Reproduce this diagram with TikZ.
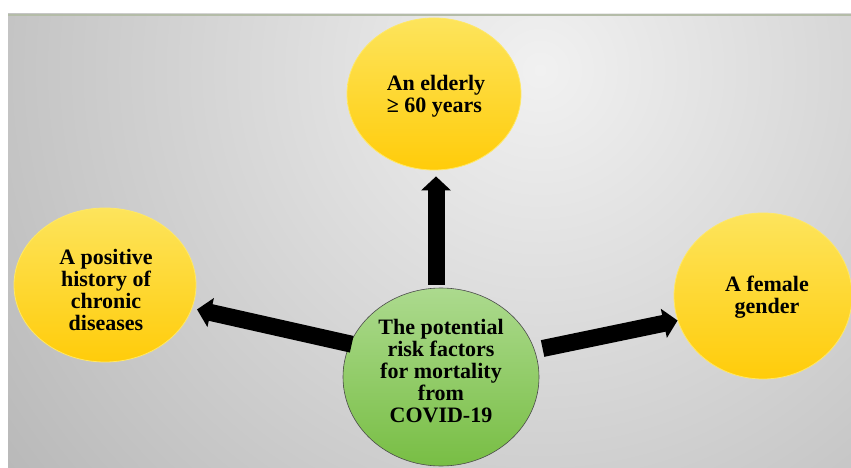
\documentclass[tikz,border=0pt]{standalone}
\usepackage{fontspec}
\setmainfont{Liberation Serif}
\usetikzlibrary{shapes.geometric,arrows.meta}
\definecolor{bgin}{HTML}{F1F1F1}
\definecolor{bgout}{HTML}{B6B6B6}
\definecolor{topline}{HTML}{B4BCA8}
\definecolor{ytop}{HTML}{FDE45C}
\definecolor{ybot}{HTML}{FFCC0A}
\definecolor{yline}{HTML}{FFE866}
\definecolor{gtop}{HTML}{ACDA8E}
\definecolor{gbot}{HTML}{78BE44}
\definecolor{gline}{HTML}{4A4A4A}
\tikzset{
  yell/.style={ellipse, draw=yline, line width=0.8pt, top color=ytop, bottom color=ybot, inner sep=0pt},
  grn/.style={ellipse, draw=gline, line width=0.6pt, top color=gtop, bottom color=gbot, inner sep=0pt},
  lbl/.style={font=\fontsize{22}{22}\selectfont\bfseries, text=black, align=center, inner sep=0pt},
  bigarrow/.style={line width=17pt, black, -{Triangle[width=29pt,length=14pt]}}
}
\begin{document}
\begin{tikzpicture}[x=1pt,y=-1pt]
\useasboundingbox (0,0) rectangle (851,468);
\fill[white] (0,0) rectangle (851,468);
\begin{scope}
\clip (8,14) rectangle (851,468);
\shade[inner color=bgin, outer color=bgout] (540,70) circle [radius=700pt];
\end{scope}
\draw[topline, line width=2pt] (8,15) -- (851,15);

\node[yell, minimum width=174pt, minimum height=152pt] (top) at (434,94) {};
\node[yell, minimum width=182pt, minimum height=154pt] (left) at (105,285) {};
\node[yell, minimum width=178pt, minimum height=166pt] (right) at (763,296) {};
\node[grn, minimum width=196pt, minimum height=178pt] (green) at (441,377) {};

\node[lbl, align=left] (ttop) at (436,96) {An elderly\\≥ 60 years};
\node[lbl] (tleft) at (106,290) {A positive\\history of\\chronic\\diseases};
\node[lbl] (tright) at (767,297) {A female\\gender};
\node[lbl] (tgreen) at (441,371) {The potential\\risk factors\\for mortality\\from\\COVID-19};

\draw[bigarrow, shorten <=3pt, shorten >=6pt] ([xshift=-5pt]green.north) -- ([xshift=2pt]top.south);
\draw[bigarrow, shorten <=-2pt, shorten >=5pt] (green.160) -- (left.-15);
\draw[bigarrow, shorten <=8pt, shorten >=0pt] (green.16) -- (right.196);
\end{tikzpicture}
\end{document}
